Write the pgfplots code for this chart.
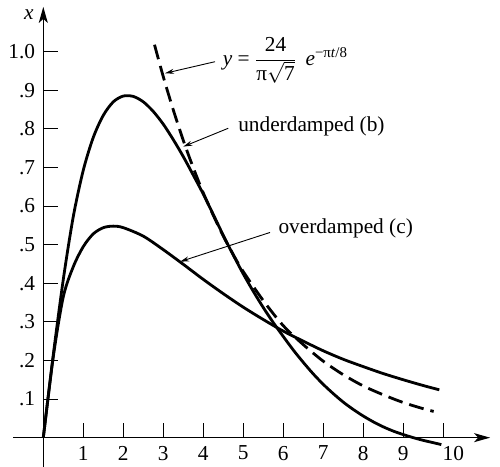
\documentclass[border=0pt]{standalone}
\usepackage{pgfplots}
\pgfplotsset{compat=1.18}
\usetikzlibrary{arrows.meta}
\usepackage{fontspec}
\setmainfont{Liberation Serif}
\begin{document}
\fontsize{21.4}{25}\selectfont
\begin{tikzpicture}
\path[use as bounding box] (0,0) rectangle (500bp,467bp);
\begin{axis}[
  anchor=south west, at={(13.3bp,0bp)},
  x=40bp, y=386bp,
  xmin=-0.75, xmax=11.17, ymin=-0.076, ymax=1.116,
  axis lines=middle,
  axis line style={line width=1.3bp},
  x axis line style={-{Stealth[length=16bp,width=9bp,inset=4bp]}},
  y axis line style={-{Stealth[length=16bp,width=9bp,inset=4bp]}},
  xtick={1,2,3,4,5,6,7,8,9,10},
  xticklabels={1,2,3,4,5,6,7,8,9,\hspace*{20bp}10},
  ytick={0.1,0.2,0.3,0.4,0.5,0.6,0.7,0.8,0.9,1.0},
  yticklabels={.1,.2,.3,.4,.5,.6,.7,.8,.9,1.0},
  tick align=inside,
  major tick length=15bp,
  every tick/.style={line width=1.1bp, black},
  clip=false,
  ticklabel style={font=\fontsize{21.4}{25}\selectfont},
  xticklabel style={anchor=north, yshift=-1bp},
  yticklabel style={anchor=east, xshift=-1bp},
]
% underdamped (b)
\addplot[line width=2.8bp, smooth] coordinates {
(0,0) (0.25,0.215) (0.5,0.41) (0.75,0.573) (1.0,0.693) (1.25,0.778)
(1.5,0.835) (1.75,0.870) (2.0,0.885) (2.25,0.884) (2.5,0.870)
(2.75,0.845) (3.0,0.812) (3.25,0.772) (3.5,0.728) (3.75,0.680)
(4.0,0.631) (4.25,0.578) (4.5,0.524) (4.75,0.473) (5.0,0.424)
(5.25,0.379) (5.5,0.337) (5.75,0.298) (6.0,0.262) (6.25,0.227)
(6.5,0.195) (6.75,0.165) (7.0,0.138) (7.25,0.114) (7.5,0.092)
(7.75,0.073) (8.0,0.056) (8.25,0.041) (8.5,0.028) (8.75,0.017)
(9.0,0.008) (9.25,0.0) (9.5,-0.007) (9.75,-0.013) (9.95,-0.018)
};
% overdamped (c)
\addplot[line width=2.8bp, smooth] coordinates {
(0,0) (0.25,0.21) (0.5,0.365) (0.75,0.443) (1.0,0.495) (1.25,0.528)
(1.5,0.544) (1.75,0.548) (2.0,0.544) (2.5,0.522) (3.0,0.487)
(3.5,0.449) (4.0,0.410) (4.5,0.373) (5.0,0.338) (5.5,0.306)
(6.0,0.276) (6.5,0.250) (7.0,0.225) (7.5,0.203) (8.0,0.184)
(8.5,0.166) (9.0,0.150) (9.5,0.135) (9.9,0.124)
};
% envelope
\addplot[line width=2.8bp, smooth, dash pattern=on 15bp off 7bp] coordinates {
(2.78,1.018) (3.0,0.935) (3.25,0.849) (3.5,0.770) (3.75,0.699)
(4.0,0.634) (4.25,0.576) (4.5,0.522) (4.75,0.474) (5.0,0.430)
(5.5,0.355) (6.0,0.290) (6.5,0.241) (7.0,0.198) (7.5,0.163)
(8.0,0.134) (8.5,0.111) (9.0,0.091) (9.5,0.075) (9.76,0.068)
};
% labels
\node[anchor=base west, inner sep=0] at (axis cs:4.485,0.9643)
  {\textit{y} = $\displaystyle\frac{\mbox{24}}{\mbox{π}\sqrt{\mbox{7}}}$\;\,\textit{e}\textsuperscript{−π\textit{t}/8}};
\node[anchor=base west, inner sep=0] at (axis cs:4.87,0.792) {underdamped (b)};
\node[anchor=base west, inner sep=0] at (axis cs:5.875,0.5295) {overdamped (c)};
\node[inner sep=0] at (axis cs:-0.36,1.097) {\textit{x}};
\draw[line width=0.9bp, -{Stealth[length=9bp,width=5bp]}] (axis cs:4.293,0.974) -- (axis cs:3.043,0.944);
\draw[line width=0.9bp, -{Stealth[length=9bp,width=5bp]}] (axis cs:4.625,0.8016) -- (axis cs:3.5,0.754);
\draw[line width=0.9bp, -{Stealth[length=9bp,width=5bp]}] (axis cs:5.668,0.5316) -- (axis cs:3.418,0.456);
\end{axis}
\end{tikzpicture}
\end{document}
